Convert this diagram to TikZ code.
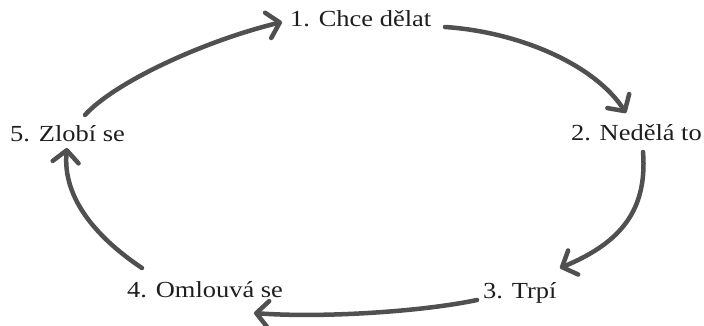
\documentclass[tikz,border=0pt]{standalone}
\usepackage{fontspec}
\setmainfont{Liberation Serif}[FakeStretch=1.15]
\usetikzlibrary{arrows.meta}
\definecolor{inkgray}{RGB}{80,80,80}
\definecolor{textblack}{RGB}{30,30,30}
\begin{document}
\begin{tikzpicture}[x=1pt,y=-1pt,
  lab/.style={inner sep=0pt,anchor=base west,text=textblack,font=\fontsize{23}{27}\selectfont},
  arr/.style={draw=inkgray,line width=4.5pt,line cap=round,
    -{Straight Barb[length=12pt,width=26pt,line width=4.5pt,round]}}]
\useasboundingbox[fill=white] (0,0) rectangle (704,326);
\node[lab] (n1) at (290,27) {1. Chce dělat};
\node[lab,anchor=base east] (n2) at (702,140) {2. Nedělá to};
\node[lab] (n3) at (483,298) {3. Trpí};
\node[lab] (n4) at (127,297) {4. Omlouvá se};
\node[lab] (n5) at (10,142) {5. Zlobí se};
% 5 -> 1
\draw[arr] ([shift={(75,-27)}]n5.base west) .. controls (115,82) and (204,41) .. ([shift={(-8,-5)}]n1.base west);
% 1 -> 2
\draw[arr] ([shift={(155,0)}]n1.base west) .. controls (520,32) and (595,65) .. ([shift={(-76,-27)}]n2.base east);
% 2 -> 3
\draw[arr] ([shift={(-59,12)}]n2.base east) .. controls (648,215) and (615,245) .. ([shift={(77,-30)}]n3.base west);
% 3 -> 4
\draw[arr] ([shift={(-6,2)}]n3.base west) .. controls (420,312) and (320,318) .. ([shift={(127,16)}]n4.base west);
% 4 -> 5
\draw[arr] ([shift={(15,-29)}]n4.base west) .. controls (100,240) and (62,200) .. ([shift={(57,6)}]n5.base west);
\end{tikzpicture}
\end{document}
